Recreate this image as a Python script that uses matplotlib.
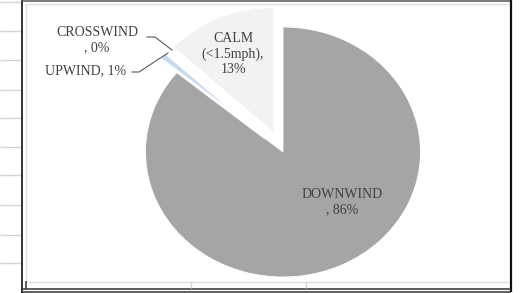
import numpy as np
import matplotlib
matplotlib.use('Agg')
from matplotlib import pyplot as plt
from matplotlib.lines import Line2D

# wind direction share (%), pie order as drawn clockwise from 12 o'clock
labels = ['DOWNWIND', 'UPWIND', 'CROSSWIND', 'CALM']
values = [86, 1, 0, 13]
label_text = ['DOWNWIND\n, 86%', 'UPWIND, 1%', 'CROSSWIND\n, 0%', 'CALM\n(<1.5mph),\n13%']
colors = ['#a5a5a5', '#c6d9f0', '#dce6f2', '#f2f2f2']
explode = [0, 0.17, 0.17, 0.17]

W, H = 520, 293
CX, CY, RX, RY = 283, 152, 137.5, 125   # pie centre / radii in pixels
TOP = 11                                  # plot area top (calm slice gets clipped)

plt.rcParams['font.family'] = ['Liberation Serif', 'DejaVu Serif']

fig = plt.figure(figsize=(W / 100, H / 100), dpi=100)
fig.patch.set_facecolor('white')

def px(x, y):
    return (x - CX) / RX, (CY - y) / RY

def fx(x):
    return x / W

def fy(y):
    return 1 - y / H

def fline(xs, ys, c, lw):
    fig.add_artist(Line2D([fx(v) for v in xs], [fy(v) for v in ys],
                          transform=fig.transFigure, color=c, lw=lw,
                          solid_capstyle='butt'))

# spreadsheet cells peeking out on the left
for gy in [2, 31, 60, 90, 118, 147, 175, 205, 235, 263]:
    fline([0, 21], [gy, gy], '#d4d4d4', 1.0)

ax = fig.add_axes([0, 0, 1, (H - TOP) / H])
wedges, _ = ax.pie(values, startangle=90, counterclock=False, colors=colors,
                   explode=explode, radius=1,
                   wedgeprops=dict(edgecolor='white', linewidth=0.6))
wedges[1].set_linewidth(2.2)   # the 1% slice only shows as a thin sliver
ax.set_aspect('auto')
ax.set_xlim((0 - CX) / RX, (W - CX) / RX)
ax.set_ylim((CY - H) / RY, (CY - TOP) / RY)
ax.axis('off')

tc = '#404040'
fs = 10
ax.text(*px(342, 202), label_text[0], ha='center', va='center', fontsize=fs,
        color=tc, linespacing=1.3)
ax.text(*px(86, 71), label_text[1], ha='center', va='center', fontsize=fs,
        color=tc)
ax.text(*px(97, 40), label_text[2], ha='center', va='center', fontsize=fs,
        color=tc, linespacing=1.2)
ax.text(*px(233, 54), label_text[3], ha='center', va='center', fontsize=fs,
        color=tc, linespacing=1.2)

# leader lines
lc = '#595959'
for pts in [[(147, 37), (155, 37), (172, 50)],
            [(132, 72), (139, 72), (168, 53)]]:
    xy = np.array([px(*p) for p in pts])
    ax.plot(xy[:, 0], xy[:, 1], color=lc, lw=0.8, clip_on=False)

# chart frame
fline([21.5, 21.5], [0, 293], '#333333', 1.4)
fline([21, 511], [0.6, 0.6], '#555555', 1.1)
fline([510.5, 510.5], [0, 292], '#111111', 1.6)
fline([21, 511], [288.5, 288.5], '#333333', 1.1)
fline([21, 511], [291.5, 291.5], '#333333', 1.1)
fline([25, 509], [4, 4], '#dddddd', 1.0)
fline([25, 509], [282, 282], '#dddddd', 1.0)
fline([25.5, 25.5], [4, 282], '#dddddd', 1.0)
fline([25.5, 25.5], [281, 289], '#333333', 1.1)
for gx in [191, 306]:
    fline([gx, gx], [282, 288], '#d4d4d4', 1.0)

fig.savefig('out.png', dpi=100, facecolor='white')
